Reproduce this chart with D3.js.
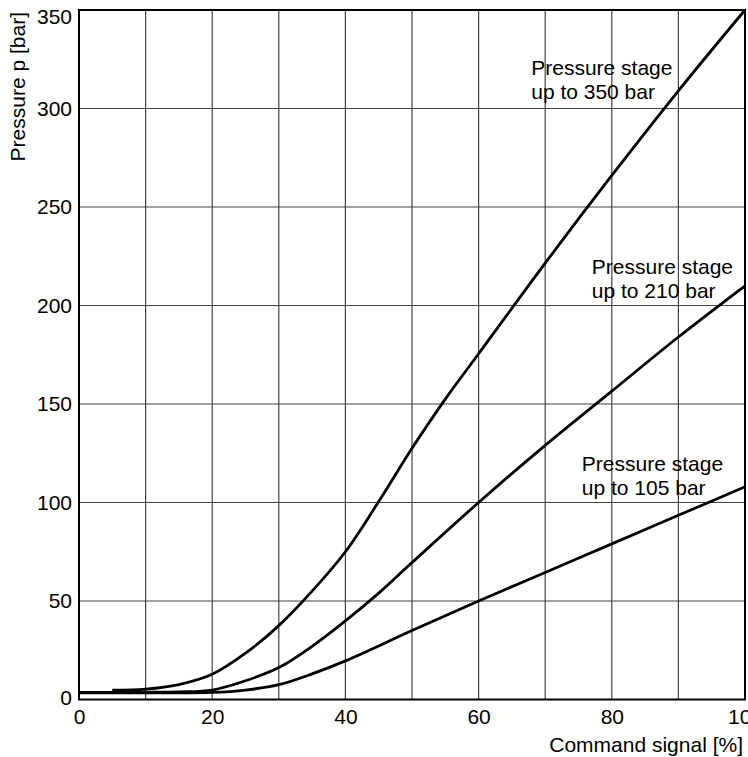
<!DOCTYPE html>
<html>
<head>
<meta charset="utf-8">
<script src="https://cdn.jsdelivr.net/npm/d3@7"></script>
<style>
  html, body { margin: 0; padding: 0; background: #fff; }
  svg { display: block; font-family: "Liberation Sans", Arial, Helvetica, sans-serif; }
</style>
</head>
<body>
<svg id="chart" width="748" height="757"></svg>
<script>
// ---- data ----
const xTicks = [0, 20, 40, 60, 80, 100];
const yTicks = [0, 50, 100, 150, 200, 250, 300, 350];
const xGrid = [10, 20, 30, 40, 50, 60, 70, 80, 90];
const yGrid = [50, 100, 150, 200, 250, 300];

const stage350X = [5, 10, 15, 20, 25, 30, 35, 40, 45, 50, 55, 60, 70, 80, 90, 100];
const stage350Y = [4.8, 5.3, 7.6, 12.8, 23.5, 37.5, 55, 75, 100.5, 127.5, 152.5, 175.5, 221.5, 266, 309, 350];

const stage210X = [0, 10, 15, 20, 25, 30, 35, 40, 45, 50, 60, 70, 80, 90, 100];
const stage210Y = [3.6, 3.7, 3.9, 4.8, 9.5, 16.2, 27, 39.9, 54, 69.5, 100, 129, 156.5, 184, 210];

const stage105X = [0, 10, 20, 25, 30, 35, 40, 50, 60, 70, 80, 90, 100];
const stage105Y = [3.4, 3.4, 3.6, 4.8, 7.5, 13, 19.6, 35, 50, 64.5, 79, 93.5, 108];

const labels = [
  { lines: ["Pressure stage", "up to 350 bar"], x: 67.9, y: 317 },
  { lines: ["Pressure stage", "up to 210 bar"], x: 77, y: 216 },
  { lines: ["Pressure stage", "up to 105 bar"], x: 75.5, y: 116 }
];
const xTitle = "Command signal [%]";
const yTitle = "Pressure p [bar]";

// ---- layout ----
(function () {
const svg = d3.select("#chart");
const mLeft = 79, mRight = 745, mTop = 10, mBottom = 699.5;
const FS = 21;
const x = d3.scaleLinear().domain([0, 100]).range([mLeft, mRight]);
const y = d3.scaleLinear().domain([0, 350]).range([mBottom, mTop]);

// grid
svg.append("g").selectAll("line").data(xGrid).join("line")
  .attr("x1", d => x(d)).attr("x2", d => x(d))
  .attr("y1", mTop).attr("y2", mBottom)
  .attr("stroke", "#444").attr("stroke-width", 1.2);
svg.append("g").selectAll("line").data(yGrid).join("line")
  .attr("y1", d => y(d)).attr("y2", d => y(d))
  .attr("x1", mLeft).attr("x2", mRight)
  .attr("stroke", "#444").attr("stroke-width", 1.2);

// frame
svg.append("rect")
  .attr("x", mLeft).attr("y", mTop)
  .attr("width", mRight - mLeft).attr("height", mBottom - mTop)
  .attr("fill", "none").attr("stroke", "#000").attr("stroke-width", 2);

// axes (labels only)
const xAxis = d3.axisBottom(x).tickValues(xTicks).tickSize(0).tickPadding(10).tickFormat(d3.format("d"));
const gx = svg.append("g").attr("transform", `translate(0,${mBottom})`).call(xAxis);
gx.select(".domain").remove();
gx.selectAll("text").attr("font-size", FS).attr("fill", "#000")
  .attr("font-family", "'Liberation Sans', Arial, sans-serif");

const yAxis = d3.axisLeft(y).tickValues(yTicks).tickSize(0).tickPadding(7).tickFormat(d3.format("d"));
const gy = svg.append("g").attr("transform", `translate(${mLeft},0)`).call(yAxis);
gy.select(".domain").remove();
gy.selectAll("text").attr("font-size", FS).attr("fill", "#000")
  .attr("font-family", "'Liberation Sans', Arial, sans-serif");
// keep the top label inside the picture, as in the reference
gy.selectAll(".tick").filter(d => d === 350).select("text").attr("dy", "0.62em");
gy.selectAll(".tick").filter(d => d === 0).select("text").attr("dy", "0.25em");

// curves
const line = d3.line().x(d => x(d[0])).y(d => y(d[1])).curve(d3.curveCatmullRom.alpha(0.5));
const series = [
  d3.zip(stage350X, stage350Y),
  d3.zip(stage210X, stage210Y),
  d3.zip(stage105X, stage105Y)
];
svg.append("g").selectAll("path").data(series).join("path")
  .attr("d", line)
  .attr("fill", "none").attr("stroke", "#000").attr("stroke-width", 2.8)
  .attr("stroke-linejoin", "round");

// annotations
labels.forEach(l => {
  const t = svg.append("text").attr("x", x(l.x)).attr("y", y(l.y))
    .attr("font-size", FS).attr("fill", "#000");
  l.lines.forEach((s, i) => {
    t.append("tspan").attr("x", x(l.x)).attr("dy", i === 0 ? 0 : 24).text(s);
  });
});

// titles
svg.append("text").attr("x", 743).attr("y", 752)
  .attr("text-anchor", "end").attr("font-size", FS).attr("fill", "#000").text(xTitle);
svg.append("text")
  .attr("transform", "translate(25,12) rotate(-90)")
  .attr("text-anchor", "end").attr("font-size", FS).attr("fill", "#000").text(yTitle);
})();
</script>
</body>
</html>
